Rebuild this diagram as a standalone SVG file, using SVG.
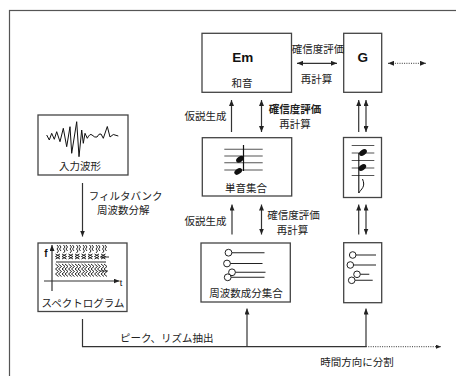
<svg xmlns="http://www.w3.org/2000/svg" xmlns:xlink="http://www.w3.org/1999/xlink" width="456" height="376" viewBox="0 0 456 376">
<style>
.box{fill:#fff;stroke:#444;stroke-width:1.3}
.ln{stroke:#333;stroke-width:1.2;fill:none}
.dot{stroke:#333;stroke-width:1;fill:none;stroke-dasharray:1 1.3}
.t{font-family:"Noto Sans CJK JP","Noto Sans CJK SC",sans-serif;font-size:10.5px;fill:#222;text-anchor:middle}
.b{font-weight:bold}
.lat{font-family:"Liberation Sans",Arial,sans-serif;font-weight:bold;fill:#111;text-anchor:middle}
.fc{fill:#fff;stroke:#222;stroke-width:1}
.fl{stroke:#222;stroke-width:1.1}
.staff{stroke:#555;stroke-width:1.1}
.spec{stroke:#111;stroke-width:0.9;fill:none}
</style>
<defs>
<marker id="ah" viewBox="0 0 6 5" refX="6" refY="2.5" markerWidth="6" markerHeight="5" markerUnits="userSpaceOnUse" orient="auto-start-reverse"><path d="M0,0 L6,2.5 L0,5z" fill="#222"/></marker>
<marker id="ahs" viewBox="0 0 5 4" refX="5" refY="2" markerWidth="5" markerHeight="4" markerUnits="userSpaceOnUse" orient="auto-start-reverse"><path d="M0,0 L5,2 L0,4z" fill="#222"/></marker>
<path id="col" class="spec" d="M-1,245 l1.5,2 l-1.5,2 l1.5,2 l-1.5,2 M1.5,245 l1.5,2 l-1.5,2 l1.5,2 M-2.5,254 l4.5,2.5 l-4.5,2.5 M2,254 l-4.5,2.5 l4.5,2.5 M-2.5,264 l3,2.5 l-3,2.5 l3,2.5 l-3,2.5 l3,2.5 M0.5,264 l3,2.5 l-3,2.5 l3,2.5 l-3,2.5 l3,2.5"/>
</defs>
<rect x="9.5" y="10.5" width="470" height="390" fill="none" stroke="#555" stroke-width="1.2"/>

<g id="input">
<rect class="box" x="38" y="115" width="90" height="60"/>
<path fill="none" stroke="#111" stroke-width="1" d="M46.7,135 L49.3,140 L51.7,133.3 L54.3,139.3 L56.7,131.7 L60,141.7 L63.3,128.3 L66.7,146.7 L70,126.7 L71.7,153.3 L76.7,121.7 L79,156.7 L81.7,130 L83.3,143.3 L85,133.3 L87.3,138.3 Q90,133 92,135 Q95,138 97,137 Q99,133 101,134 L103.3,138.3 L107.3,126.5 L110,137 L113.3,134.5 L118.3,136"/>
<text class="t" x="80" y="169.5">入力波形</text>
</g>

<g id="spectrogram">
<rect class="box" x="38" y="243" width="89" height="68.5"/>
<use xlink:href="#col" x="58"/>
<use xlink:href="#col" x="64.5"/>
<use xlink:href="#col" x="71"/>
<use xlink:href="#col" x="77.5"/>
<use xlink:href="#col" x="84"/>
<use xlink:href="#col" x="90.5"/>
<use xlink:href="#col" x="97"/>
<use xlink:href="#col" x="103.5"/>
<path class="spec" d="M56,262 H106 M100,257 H109 M100,271 H108"/>
<path class="ln" stroke="#111" d="M52,291 V245" marker-end="url(#ah)"/>
<path class="ln" stroke="#111" d="M44,281 H119.5" marker-end="url(#ah)"/>
<text class="lat" x="46" y="257" font-size="10">f</text>
<text class="lat" x="121" y="286" font-size="9" style="font-weight:normal">t</text>
<text class="t" x="83" y="306.5">スペクトログラム</text>
</g>

<g id="chord-em">
<rect class="box" x="202" y="33.3" width="89.5" height="59"/>
<text class="lat" x="242.7" y="62" font-size="13.5">Em</text>
<text class="t" x="242" y="87.3">和音</text>
</g>

<g id="chord-g">
<rect class="box" x="343.7" y="33.3" width="38" height="59"/>
<text class="lat" x="362.7" y="61.7" font-size="13.5">G</text>
</g>

<g id="notes-main">
<rect class="box" x="202.3" y="137.7" width="89.4" height="58.3"/>
<path class="staff" d="M224.3,149.3 H262.7 M224.3,156 H262.7 M224.3,162.8 H262.7 M224.3,170 H262.7"/>
<ellipse cx="240" cy="159.2" rx="4.3" ry="2.7" transform="rotate(-35 240 159.2)" fill="#111"/>
<ellipse cx="238.2" cy="171.4" rx="4.3" ry="2.7" transform="rotate(-35 238.2 171.4)" fill="#111"/>
<path d="M243.5,145 V171" stroke="#111" stroke-width="1.2"/>
<text class="t" x="246" y="192.3">単音集合</text>
</g>

<g id="notes-g">
<rect class="box" x="343.5" y="137.5" width="38" height="60"/>
<path class="staff" d="M351.7,145.5 H374.3 M351.7,153 H374.3 M351.7,160.5 H374.3 M351.7,168 H374.3 M351.7,175.5 H374.3"/>
<ellipse cx="363" cy="152.5" rx="4.3" ry="2.7" transform="rotate(-35 363 152.5)" fill="#111"/>
<ellipse cx="362.3" cy="167.5" rx="4.3" ry="2.7" transform="rotate(-35 362.3 167.5)" fill="#111"/>
<path d="M358.8,153 V193" stroke="#111" stroke-width="1.1"/>
<path d="M358.8,193 C361,189 366,187 362.5,179" fill="none" stroke="#111" stroke-width="1"/>
</g>

<g id="freq-main">
<rect class="box" x="201" y="243" width="89.3" height="59"/>
<path class="fl" d="M228.5,252.7 H264.5 M227,263.5 H262.5 M232,272.3 H265.5 M227.7,277.3 H264.5"/>
<circle class="fc" cx="228.5" cy="252.7" r="3.4"/>
<circle class="fc" cx="227" cy="263.5" r="3.4"/>
<circle class="fc" cx="232" cy="272.3" r="3.4"/>
<circle class="fc" cx="227.7" cy="277.3" r="3.4"/>
<text class="t" x="246" y="297">周波数成分集合</text>
</g>

<g id="freq-g">
<rect class="box" x="343.7" y="242.7" width="38" height="60"/>
<path class="fl" d="M352.7,255 H376 M350.3,265 H376 M357,274.3 H369.3 M351.7,280.3 H372.7"/>
<circle class="fc" cx="352.7" cy="255" r="3.3"/>
<circle class="fc" cx="350.3" cy="265" r="3.3"/>
<circle class="fc" cx="357" cy="274.3" r="3.3"/>
<circle class="fc" cx="351.7" cy="280.3" r="3.3"/>
</g>

<g id="connectors">
<path class="ln" d="M82.5,183 V236.5" marker-end="url(#ah)"/>
<path class="ln" d="M82.5,319 V346.7 H366"/>
<path class="dot" d="M366,346.7 H441" marker-end="url(#ahs)"/>
<path class="ln" d="M247,346.7 V308.5" marker-end="url(#ah)"/>
<path class="ln" d="M366,346.7 V308.5" marker-end="url(#ah)"/>
<path class="ln" d="M297,63.3 H337" marker-start="url(#ah)" marker-end="url(#ah)"/>
<path class="dot" d="M388,63.3 H426" marker-start="url(#ah)" marker-end="url(#ah)"/>
<path class="ln" d="M231.5,132 V100" marker-end="url(#ah)"/>
<path class="ln" d="M261.5,100 V132" marker-start="url(#ah)" marker-end="url(#ah)"/>
<path class="ln" d="M358.7,132 V100" marker-end="url(#ah)"/>
<path class="ln" d="M366,100 V132" marker-start="url(#ah)" marker-end="url(#ah)"/>
<path class="ln" d="M232,234.5 V204.5" marker-end="url(#ah)"/>
<path class="ln" d="M261.5,204.5 V234.5" marker-start="url(#ah)" marker-end="url(#ah)"/>
<path class="ln" d="M358.7,234.5 V204.5" marker-end="url(#ah)"/>
<path class="ln" d="M366,204.5 V234.5" marker-start="url(#ah)" marker-end="url(#ah)"/>
</g>

<g id="labels">
<text class="t" x="125.7" y="200">フィルタバンク</text>
<text class="t" x="123.3" y="214">周波数分解</text>
<text class="t" x="166.7" y="342.3">ピーク、リズム抽出</text>
<text class="t" x="357" y="365.7">時間方向に分割</text>
<text class="t" x="318" y="53.3">確信度評価</text>
<text class="t" x="316.5" y="83.3">再計算</text>
<text class="t" x="205.4" y="119.5">仮説生成</text>
<text class="t b" x="295" y="112.5">確信度評価</text>
<text class="t" x="295" y="127.5">再計算</text>
<text class="t" x="205.4" y="225">仮説生成</text>
<text class="t" x="293.5" y="218.5">確信度評価</text>
<text class="t" x="292.5" y="233.5">再計算</text>
</g>
</svg>
